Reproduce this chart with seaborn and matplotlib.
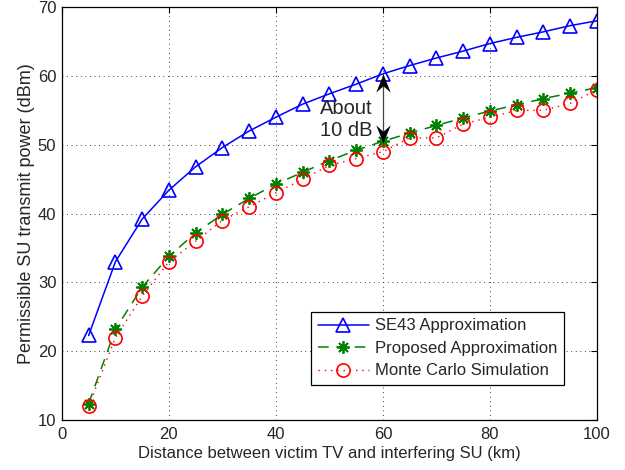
import matplotlib
matplotlib.use("Agg")
import matplotlib.pyplot as plt
from matplotlib.path import Path
import seaborn as sns
import pandas as pd

# distances (km)
distance = [5, 10, 15, 20, 25, 30, 35, 40, 45, 50, 55, 60, 65, 70, 75, 80, 85, 90, 95, 100]

# permissible SU transmit power (dBm)
se43 = [22.3, 33.0, 39.2, 43.4, 46.8, 49.6, 52.0, 54.0, 55.9, 57.4,
        58.8, 60.3, 61.5, 62.6, 63.6, 64.7, 65.6, 66.4, 67.3, 68.0]
proposed = [12.4, 23.2, 29.3, 33.8, 37.2, 39.9, 42.2, 44.3, 46.0, 47.7,
            49.2, 50.5, 51.7, 52.8, 53.9, 54.9, 55.8, 56.7, 57.5, 58.3]
monte_carlo = [12, 22, 28, 33, 36, 39, 41, 43, 45, 47,
               48, 49, 51, 51, 53, 54, 55, 55, 56, 58]

df = pd.DataFrame({"d": distance, "se43": se43, "prop": proposed, "mc": monte_carlo})

sns.set_style("white")
plt.rcParams['font.family'] = ['Liberation Sans', 'DejaVu Sans']

fig = plt.figure(figsize=(6.25, 4.7), dpi=100)
ax = fig.add_axes([0.099, 0.106, 0.856, 0.879])

sns.lineplot(data=df, x="d", y="se43", ax=ax, color="blue", lw=1.1, marker="^",
             markersize=10.5, markerfacecolor="none", markeredgecolor="blue",
             markeredgewidth=1.2, label="SE43 Approximation")
sns.lineplot(data=df, x="d", y="prop", ax=ax, color="green", lw=1.1, marker=(8, 2, 0),
             markersize=9, markeredgecolor="green", markeredgewidth=1.3,
             label="Proposed Approximation")
ax.lines[-1].set_linestyle((0, (7, 5)))
sns.lineplot(data=df, x="d", y="mc", ax=ax, color="red", lw=1.0, marker="o",
             markersize=9.5, markerfacecolor="none", markeredgecolor="red",
             markeredgewidth=1.2, label="Monte Carlo Simulation")
ax.lines[-1].set_linestyle((0, (1, 3.5)))

# annotation: ~10 dB gap at 60 km, matlab style dart heads
ax.plot([60, 60], [60.3, 50.2], color="#444444", lw=0.9)
dart_up = Path([(0, 0), (-0.4, -1.0), (0, -0.65), (0.4, -1.0), (0, 0)],
               [Path.MOVETO, Path.LINETO, Path.LINETO, Path.LINETO, Path.CLOSEPOLY])
dart_dn = Path([(0, 0), (-0.4, 1.0), (0, 0.65), (0.4, 1.0), (0, 0)],
               [Path.MOVETO, Path.LINETO, Path.LINETO, Path.LINETO, Path.CLOSEPOLY])
ax.plot([60], [60.3], marker=dart_up, markersize=26, color="black", mew=0)
ax.plot([60], [50.2], marker=dart_dn, markersize=26, color="black", mew=0)
ax.text(48.3, 53.7, "About\n10 dB", fontsize=14.5, ha="left", va="center",
        linespacing=1.2)

ax.set_xlim(0, 100)
ax.set_ylim(10, 70)
ax.set_xticks(range(0, 101, 20))
ax.set_yticks(range(10, 71, 10))
ax.grid(True, color="black", linestyle=(0, (1, 4.5)), lw=0.6)
ax.tick_params(direction="in", top=True, right=True, length=4, labelsize=12, color="black")
ax.tick_params(axis="x", pad=5)
ax.tick_params(axis="y", pad=4)
for s in ax.spines.values():
    s.set_color("black")
    s.set_linewidth(0.9)

ax.set_xlabel("Distance between victim TV and interfering SU (km)", fontsize=12, labelpad=3)
ax.set_ylabel("Permissible SU transmit power (dBm)", fontsize=13, labelpad=2)

leg = ax.legend(loc="lower right", bbox_to_anchor=(0.938, 0.085), borderaxespad=0,
                fontsize=12, fancybox=False, framealpha=1, edgecolor="black",
                handlelength=3.05, handletextpad=0.35, borderpad=0.4,
                labelspacing=0.45)
leg.get_frame().set_linewidth(0.9)

fig.savefig("out.png", dpi=100)
